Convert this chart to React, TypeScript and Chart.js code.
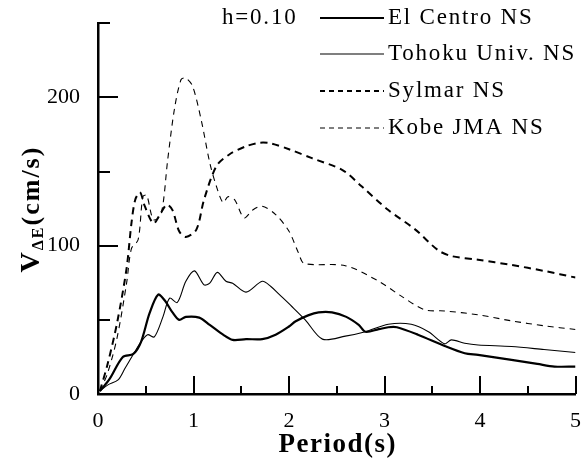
import { useEffect, useRef } from "react";
import { Chart, registerables } from "chart.js";
Chart.register(...registerables);

const FONT = '"Liberation Serif", "Times New Roman", serif';

const elCentroT = [0.02, 0.12, 0.26, 0.37, 0.45, 0.54, 0.63, 0.7, 0.78, 0.85, 0.92, 1.06, 1.17, 1.31, 1.41, 1.55, 1.72, 1.86, 2.0, 2.07, 2.2, 2.31, 2.45, 2.6, 2.73, 2.8, 2.94, 3.04, 3.13, 3.35, 3.63, 3.84, 3.98, 4.33, 4.6, 4.78, 5.0];
const elCentroV = [2, 10, 25, 27, 35, 54.5, 67, 63, 55, 50, 52, 51.5, 46.6, 40, 36.5, 37, 37, 40, 45.5, 49, 53, 55, 55, 52, 46.6, 42, 43.7, 45, 45, 40, 32.4, 27.5, 26.4, 23, 20.3, 18.5, 18.5];

const tohokuT = [0.02, 0.1, 0.21, 0.28, 0.4, 0.46, 0.52, 0.59, 0.68, 0.75, 0.83, 0.92, 1.01, 1.11, 1.17, 1.25, 1.34, 1.41, 1.55, 1.72, 1.81, 1.9, 2.03, 2.17, 2.35, 2.59, 2.8, 3.04, 3.28, 3.46, 3.63, 3.7, 3.84, 3.98, 4.33, 4.67, 5.0];
const tohokuV = [2, 6, 9.5, 17, 30, 36, 40, 38.5, 52, 64.6, 61.7, 76, 83, 73.6, 74.7, 82, 76, 74.7, 68.7, 76, 72.5, 67, 59, 50, 37, 39, 42, 47, 47, 42, 33.8, 36.5, 34.2, 33, 32, 30, 28];

const sylmarT = [0.02, 0.1, 0.2, 0.3, 0.35, 0.39, 0.44, 0.49, 0.58, 0.64, 0.72, 0.78, 0.85, 0.92, 1.03, 1.11, 1.24, 1.375, 1.55, 1.69, 1.81, 2.0, 2.24, 2.56, 2.76, 3.04, 3.32, 3.56, 3.7, 3.98, 4.33, 4.67, 5.0];
const sylmarV = [2, 20, 48, 85, 115, 131, 136, 126.6, 115, 120, 127.7, 124, 109.7, 105.9, 110.8, 131, 153.6, 161.5, 167, 169.4, 169, 165, 159, 151, 140, 124, 111, 97, 93, 90.5, 87, 83, 78.5];

const kobeT = [0.02, 0.1, 0.2, 0.3, 0.35, 0.42, 0.47, 0.51, 0.58, 0.66, 0.73, 0.8, 0.87, 0.92, 0.99, 1.08, 1.17, 1.24, 1.31, 1.36, 1.43, 1.53, 1.62, 1.72, 1.86, 2.0, 2.1, 2.16, 2.59, 2.94, 3.18, 3.42, 3.63, 3.98, 4.33, 4.67, 5.0];
const kobeV = [2, 14, 38, 75, 98, 104, 133, 134, 117.6, 121, 158, 192, 212, 213, 207.6, 185, 156, 140, 129, 133, 131, 118.7, 124, 126.6, 121, 109.7, 95, 88, 86.5, 76, 65.8, 56.8, 56, 53.4, 49.3, 46, 43.5];

const seriesNames = ["El Centro NS", "Tohoku Univ. NS", "Sylmar NS", "Kobe JMA NS"];
const dampingLabel = "h=0.10";
const xTitle = "Period(s)";
const xMajorTicks = [0, 1, 2, 3, 4, 5];
const yLabelTicks = [0, 100, 200];

function pts(t: number[], v: number[]) {
  return t.map((x, i) => ({ x, y: v[i] }));
}

const customPlugin = {
  id: "custom",
  afterDraw(chart: any) {
    const ctx: CanvasRenderingContext2D = chart.ctx;
    const xs = chart.scales.x;
    const ys = chart.scales.y;
    const area = chart.chartArea;
    ctx.save();
    ctx.strokeStyle = "#000";
    ctx.lineWidth = 2;
    ctx.setLineDash([]);
    for (let v = 0; v <= 5.0001; v += 0.5) {
      const px = Math.round(xs.getPixelForValue(v));
      const len = xMajorTicks.includes(Math.round(v * 10) / 10) ? 18 : 8;
      ctx.beginPath();
      ctx.moveTo(px, area.bottom);
      ctx.lineTo(px, area.bottom - len);
      ctx.stroke();
    }
    for (let v = 0; v <= 250; v += 50) {
      const py = Math.round(ys.getPixelForValue(v));
      const len = yLabelTicks.includes(v) ? 20 : 12;
      ctx.beginPath();
      ctx.moveTo(area.left, py);
      ctx.lineTo(area.left + len, py);
      ctx.stroke();
    }
    // x title
    ctx.fillStyle = "#000";
    ctx.font = `bold 27px ${FONT}`;
    (ctx as any).letterSpacing = "1.5px";
    ctx.textAlign = "center";
    ctx.textBaseline = "middle";
    ctx.fillText(xTitle, (area.left + area.right) / 2 + 1, 445);
    ctx.textAlign = "left";
    // y title
    ctx.translate(30, 209);
    ctx.rotate(-Math.PI / 2);
    ctx.textBaseline = "alphabetic";
    (ctx as any).letterSpacing = "2px";
    const f1 = `bold 28px ${FONT}`;
    const f2 = `bold 16px ${FONT}`;
    const f3 = `bold 26px ${FONT}`;
    ctx.font = f1;
    const w1 = ctx.measureText("V").width;
    ctx.font = f2;
    const w2 = ctx.measureText("ΔE").width;
    ctx.font = f3;
    const w3 = ctx.measureText("(cm/s)").width;
    let x0 = -(w1 + w2 + w3) / 2;
    ctx.font = f1;
    ctx.fillText("V", x0, 9);
    x0 += w1;
    ctx.font = f2;
    ctx.fillText("ΔE", x0, 13);
    x0 += w2;
    ctx.font = f3;
    ctx.fillText("(cm/s)", x0, 9);
    ctx.restore();

    // legend
    ctx.save();
    ctx.fillStyle = "#000";
    ctx.font = `23px ${FONT}`;
    (ctx as any).letterSpacing = "1.8px";
    ctx.textBaseline = "middle";
    ctx.fillText(dampingLabel, 222, 18);
    const rows = [18, 54, 91, 128];
    chart.data.datasets.forEach((ds: any, i: number) => {
      const y = rows[i];
      ctx.strokeStyle = "#000";
      ctx.lineWidth = ds.borderWidth;
      ctx.setLineDash(ds.borderDash && ds.borderDash.length ? [5, 4] : []);
      ctx.beginPath();
      ctx.moveTo(320, y);
      ctx.lineTo(384, y);
      ctx.stroke();
      ctx.setLineDash([]);
      ctx.fillText(ds.label, 388, y);
    });
    ctx.restore();
  },
};

export default function App() {
  const ref = useRef<HTMLCanvasElement>(null);
  useEffect(() => {
    document.body.style.margin = "0";
    const chart = new Chart(ref.current!, {
      type: "line",
      data: {
        datasets: [
          { label: seriesNames[0], data: pts(elCentroT, elCentroV), borderColor: "#000", borderWidth: 2.2, pointRadius: 0, tension: 0.3, fill: false },
          { label: seriesNames[1], data: pts(tohokuT, tohokuV), borderColor: "#000", borderWidth: 1.1, pointRadius: 0, tension: 0.3, fill: false },
          { label: seriesNames[2], data: pts(sylmarT, sylmarV), borderColor: "#000", borderWidth: 2, borderDash: [7, 5], pointRadius: 0, tension: 0.3, fill: false },
          { label: seriesNames[3], data: pts(kobeT, kobeV), borderColor: "#000", borderWidth: 1.1, borderDash: [6, 5], pointRadius: 0, tension: 0.3, fill: false },
        ],
      },
      options: {
        responsive: false,
        animation: false,
        layout: { padding: { top: 23, right: 9, left: 0, bottom: 0 } },
        plugins: { legend: { display: false }, tooltip: { enabled: false } },
        scales: {
          x: {
            type: "linear",
            min: 0,
            max: 5,
            grid: { display: false },
            border: { display: true, color: "#000", width: 2.5 },
            ticks: {
              stepSize: 0.5,
              autoSkip: false,
              maxRotation: 0,
              color: "#000",
              padding: 6,
              font: { family: FONT, size: 22 },
              callback: (v: any) => (xMajorTicks.includes(Number(v)) ? String(v) : ""),
            },
            title: { display: false },
            afterFit: (s: any) => { s.height = 70; },
          },
          y: {
            type: "linear",
            min: 0,
            max: 250,
            grid: { display: false },
            border: { display: true, color: "#000", width: 2.5 },
            ticks: {
              stepSize: 50,
              autoSkip: false,
              color: "#000",
              padding: 10,
              font: { family: FONT, size: 22 },
              callback: (v: any) => (yLabelTicks.includes(Number(v)) ? String(v) : ""),
            },
            afterFit: (s: any) => { s.width = 98; },
          },
        },
      },
      plugins: [customPlugin],
    });
    return () => chart.destroy();
  }, []);
  return <canvas ref={ref} width={587} height={464} style={{ display: "block" }} />;
}
